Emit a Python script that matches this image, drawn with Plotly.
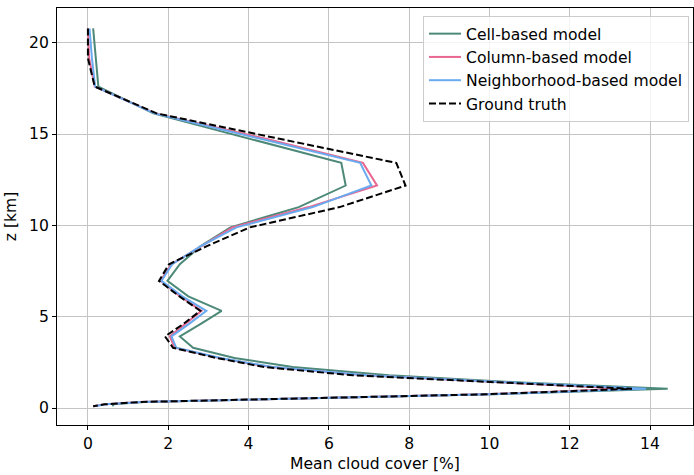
import plotly.graph_objects as go

# Vertical levels [km]
z_km = [20.78, 19.15, 17.60, 16.13, 14.74, 13.42, 12.18, 11.00, 9.89, 8.85, 7.87, 6.96,
        6.11, 5.32, 4.59, 3.92, 3.30, 2.74, 2.24, 1.79, 1.39, 1.05, 0.75, 0.52, 0.33, 0.20, 0.10]

cell_based = [0.13, 0.20, 0.26, 1.63, 4.04, 6.31, 6.42, 5.25, 3.55, 2.80, 2.29, 1.98,
              2.50, 3.33, 2.80, 2.29, 2.62, 3.65, 5.10, 7.50, 10.80, 14.44, 10.10, 5.00, 1.40, 0.62, 0.63]
column_based = [0.00, 0.03, 0.17, 1.68, 4.43, 6.85, 7.20, 5.50, 3.60, 2.80, 2.08, 1.81,
                2.30, 2.83, 2.43, 2.04, 2.16, 3.27, 4.55, 6.90, 10.40, 13.40, 9.90, 4.90, 1.30, 0.42, 0.13]
neighborhood_based = [0.04, 0.10, 0.18, 1.66, 4.30, 6.78, 7.06, 5.60, 3.70, 2.80, 2.10, 1.83,
                      2.35, 2.95, 2.51, 2.08, 2.20, 3.30, 4.60, 6.95, 10.60, 13.90, 10.00, 4.95, 1.35, 0.45, 0.16]
ground_truth = [0.00, 0.00, 0.17, 1.71, 4.77, 7.68, 7.91, 6.27, 4.03, 2.95, 2.02, 1.77,
                2.28, 2.80, 2.37, 1.92, 2.12, 3.20, 4.40, 6.60, 10.35, 13.55, 9.90, 4.90, 1.30, 0.42, 0.13]

x_ticks = [0, 2, 4, 6, 8, 10, 12, 14]
y_ticks = [0, 5, 10, 15, 20]

FONT = "DejaVu Sans"
FS = 15.6

series = [
    ("Cell-based model", cell_based, "#4d8978", "solid"),
    ("Column-based model", column_based, "#e9668f", "solid"),
    ("Neighborhood-based model", neighborhood_based, "#6aaaf0", "solid"),
    ("Ground truth", ground_truth, "black", "7px,3px"),
]

fig = go.Figure()
for i, (name, vals, color, dash) in enumerate(series):
    fig.add_trace(go.Scatter(
        x=vals, y=z_km, mode="lines", name=name, legendgroup=f"g{i}",
        line=dict(color=color, width=2, dash=dash),
    ))

axis_common = dict(
    showline=True, linecolor="black", linewidth=1, mirror=True,
    ticks="outside", ticklen=4, tickwidth=1, tickcolor="black",
    showgrid=True, gridcolor="#c4c4c4", gridwidth=1, zeroline=False,
    tickfont=dict(family=FONT, size=FS, color="black"),
    automargin=False,
)

fig.update_layout(
    width=694, height=475,
    margin=dict(l=57, r=1, t=8, b=50),
    paper_bgcolor="white", plot_bgcolor="white",
    font=dict(family=FONT, size=FS, color="black"),
    xaxis=dict(range=[-0.77, 15.07], tickvals=x_ticks,
               title=dict(text="Mean cloud cover [%]", font=dict(family=FONT, size=FS), standoff=6),
               **axis_common),
    yaxis=dict(range=[-0.93, 21.9], tickvals=y_ticks,
               title=dict(text="z [km]", font=dict(family=FONT, size=FS), standoff=8),
               **axis_common),
    legend=dict(x=(689 - 57) / 636, y=(425 - 16) / 417, xanchor="right", yanchor="top",
                bgcolor="rgba(255,255,255,0.8)", bordercolor="#cccccc", borderwidth=1,
                font=dict(family=FONT, size=FS), tracegroupgap=0, itemwidth=32),
    showlegend=True,
)

fig.write_html("out.html", config={"displayModeBar": False},
               post_script="document.body.style.margin='0px';")
